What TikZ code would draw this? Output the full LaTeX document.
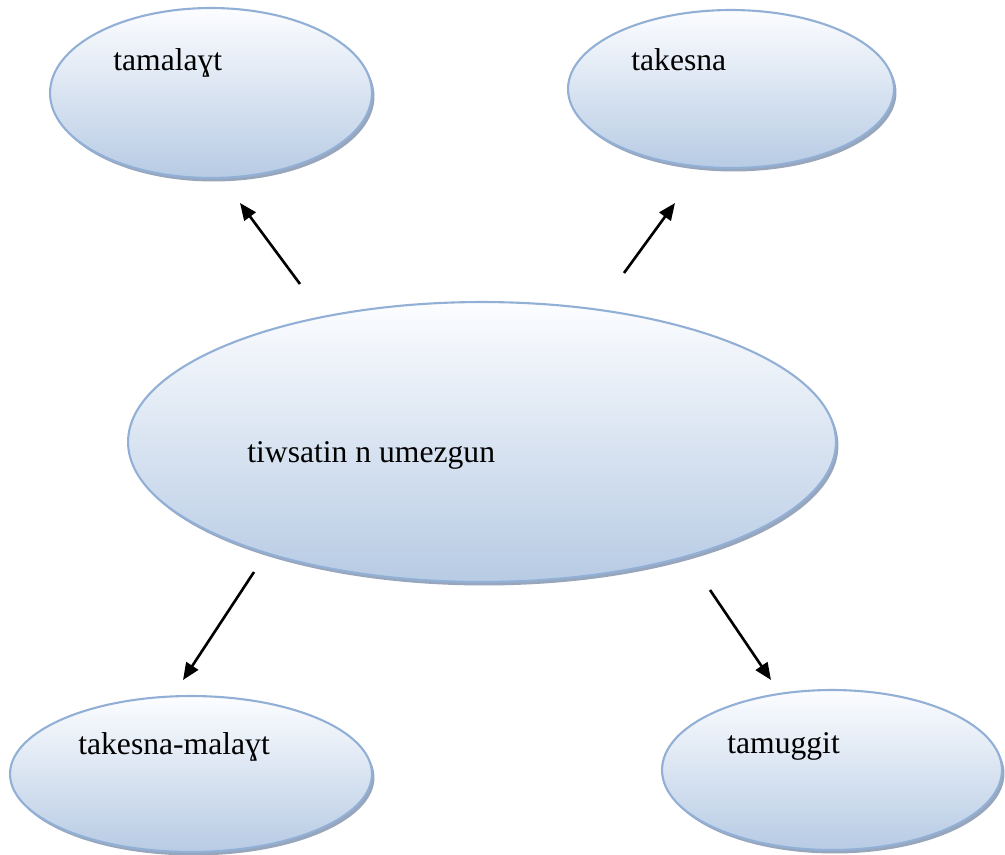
\documentclass[tikz,border=0pt]{standalone}
\usepackage{fontspec}
\setmainfont{Liberation Serif}
\usetikzlibrary{arrows.meta,shapes.geometric,shadows}
\definecolor{topc}{RGB}{252,253,255}
\definecolor{midc}{RGB}{226,233,244}
\definecolor{botc}{RGB}{183,203,228}
\definecolor{rimc}{RGB}{146,176,214}
\definecolor{shadc}{RGB}{118,136,166}

\begin{document}
\begin{tikzpicture}[x=0.02cm, y=-0.02cm, every node/.style={font=\fontsize{18}{22}\selectfont},
  bubble/.style={ellipse, draw=rimc, line width=1.2pt, inner sep=0pt, top color=topc, middle color=midc, bottom color=botc,
    drop shadow={shadow xshift=0.05cm, shadow yshift=-0.07cm, fill=shadc, opacity=0.75}},
  lbl/.style={anchor=base west, inner sep=0pt},
  arr/.style={line width=1.5pt, -{Triangle[length=0.34cm,width=0.28cm]}}]
\useasboundingbox (0,0) rectangle (1005,855);
\node[bubble, minimum width=6.44cm, minimum height=3.4cm] (tamalayt) at (211,93) {};
\node[bubble, minimum width=6.52cm, minimum height=3.16cm] (takesna) at (731,89) {};
\node[bubble, minimum width=14.16cm, minimum height=5.6cm] (umezgun) at (482,442) {};
\node[bubble, minimum width=7.24cm, minimum height=3.12cm] (tkmalayt) at (191,774) {};
\node[bubble, minimum width=6.8cm, minimum height=3.2cm] (tamuggit) at (832,770) {};
\node[lbl] (tamalayt-txt) at (113,71) {tamalaɣt};
\node[lbl] (takesna-txt) at (631,71) {takesna};
\node[lbl] (umezgun-txt) at (247,462) {tiwsatin n umezgun};
\node[lbl] (tkmalayt-txt) at (78,754) {takesna-malaɣt};
\node[lbl] (tamuggit-txt) at (727,753) {tamuggit};
% free arrows between the bubbles
\coordinate (a1s) at (300,284); \coordinate (a1e) at (240,203);
\coordinate (a2s) at (624,273); \coordinate (a2e) at (675,203);
\coordinate (a3s) at (254,572); \coordinate (a3e) at (183,680);
\coordinate (a4s) at (710,590); \coordinate (a4e) at (771,680);
\draw[arr] (a1s)--(a1e); \draw[arr] (a2s)--(a2e); \draw[arr] (a3s)--(a3e); \draw[arr] (a4s)--(a4e);
\end{tikzpicture}
\end{document}
